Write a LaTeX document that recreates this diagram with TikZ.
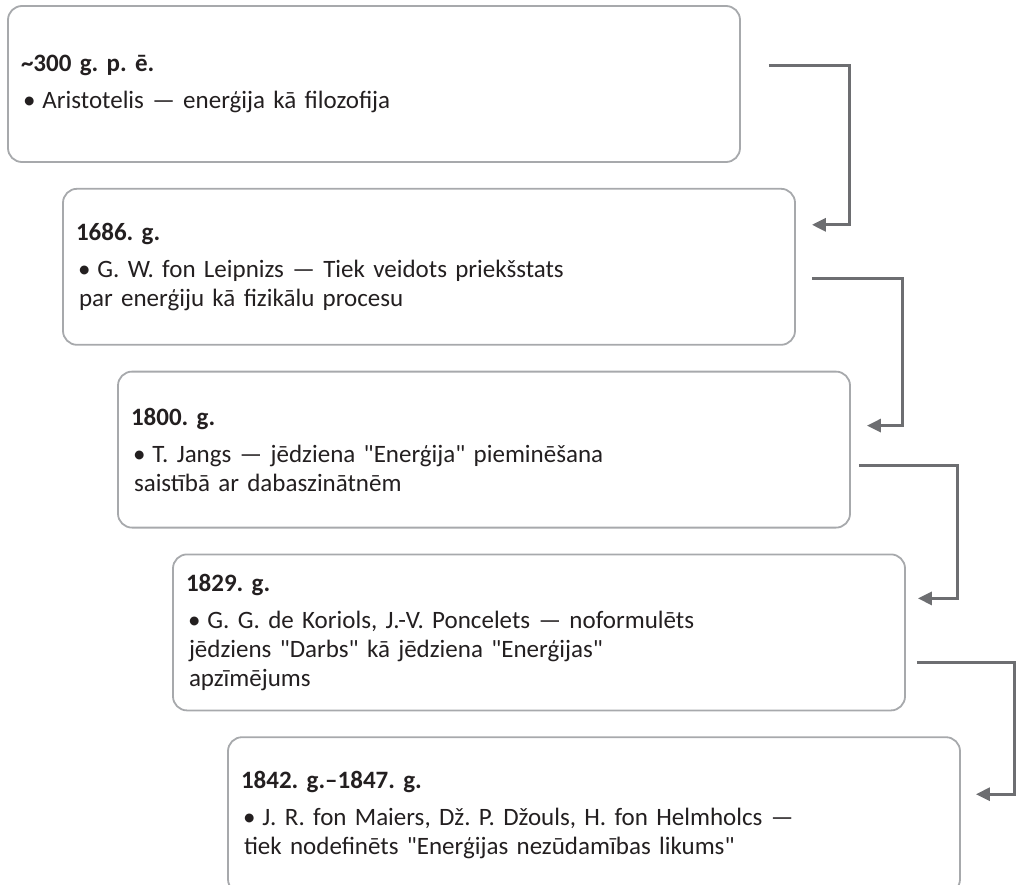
\documentclass[tikz,border=0pt]{standalone}
\usepackage{fontspec}
\setmainfont{Carlito}[Ligatures=TeXOff]
\usepackage{tikz}
\usetikzlibrary{positioning, arrows.meta}
\definecolor{enText}{HTML}{231F20}
\definecolor{enBorder}{HTML}{A7A9AC}
\definecolor{enArrow}{HTML}{6D6E71}
\frenchspacing

\begin{document}
\begin{tikzpicture}[
        x=1pt, y=-1pt,
        font=\fontsize{25}{29}\selectfont,
        text=enText,
        box/.style={
          rectangle, draw=enBorder, line width=1.8pt, rounded corners=14pt,
          minimum width=732pt, minimum height=156pt, text width=706pt,
          inner xsep=13pt, inner ysep=0pt, align=left
        },
        edge/.style={-{Triangle[length=14pt, width=13pt]}, line width=3pt, color=enArrow}
      ]
      \useasboundingbox (0,0) rectangle (1016,884);

      % --- PERIODI ---
      \node[box] (p300) at (374,84) {\textbf{\textasciitilde300 g. p. ē.}\\[8pt]
        \hspace*{2pt}•\hspace{7pt}Aristotelis — enerģija kā filozofija};
      \node[box, below=25pt of p300, xshift=55pt] (p1686) {\textbf{1686. g.}\\[8pt]
        \hspace*{2pt}•\hspace{7pt}G. W. fon Leipnizs — Tiek veidots priekšstats\\
        \hspace*{3pt}par enerģiju kā fizikālu procesu};
      \node[box, below=25pt of p1686, xshift=55pt] (p1800) {\textbf{1800. g.}\\[8pt]
        \hspace*{2pt}•\hspace{7pt}T. Jangs — jēdziena "Enerģija" pieminēšana\\
        \hspace*{3pt}saistībā ar dabaszinātnēm};
      \node[box, below=25pt of p1800, xshift=55pt] (p1829) {\textbf{1829. g.}\\[8pt]
        \hspace*{2pt}•\hspace{7pt}G. G. de Koriols, J.-V. Poncelets — noformulēts\\
        \hspace*{3pt}jēdziens "Darbs" kā jēdziena "Enerģijas"\\
        \hspace*{3pt}apzīmējums};
      \node[box, below=25pt of p1829, xshift=55pt] (p1842) {\textbf{1842. g.–1847. g.}\\[8pt]
        \hspace*{2pt}•\hspace{7pt}J. R. fon Maiers, Dž. P. Džouls, H. fon Helmholcs —\\
        \hspace*{3pt}tiek nodefinēts "Enerģijas nezūdamības likums"};

      % --- BULTAS ---
      \draw[edge] ([shift={(28,-19)}]p300.east) -- ++(81,0) |- ([shift={(16,-42)}]p1686.east);
      \draw[edge] ([shift={(16,12)}]p1686.east) -- ++(91,0) |- ([shift={(16,-24)}]p1800.east);
      \draw[edge] ([shift={(8,16)}]p1800.east) -- ++(99,0) |- ([shift={(12,-34)}]p1829.east);
      \draw[edge] ([shift={(11,30)}]p1829.east) -- ++(98,0) |- ([shift={(15,-21)}]p1842.east);

    \end{tikzpicture}
\end{document}
